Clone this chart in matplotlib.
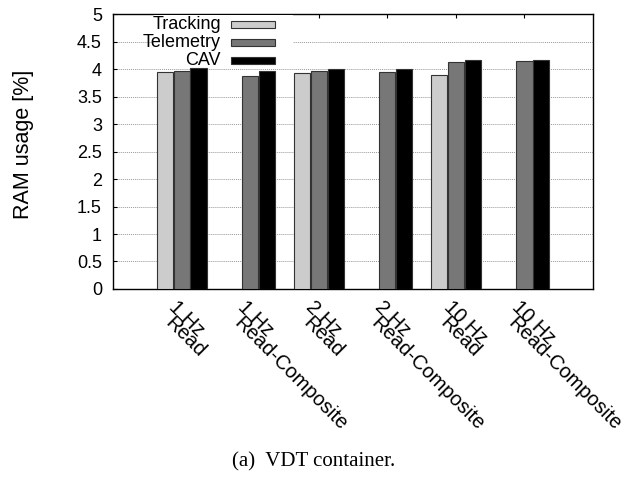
import numpy as np
import matplotlib
matplotlib.use('Agg')
import matplotlib.pyplot as plt
from matplotlib.patches import Rectangle

plt.rcParams['font.family'] = ['Liberation Sans', 'DejaVu Sans']
plt.rcParams['font.size'] = 13

rates = ['1 Hz', '1 Hz', '2 Hz', '2 Hz', '10 Hz', '10 Hz']
modes = ['Read', 'Read-Composite', 'Read', 'Read-Composite', 'Read', 'Read-Composite']
series = ['Tracking', 'Telemetry', 'CAV']
# nan = no bar in that group
tracking = [3.94, np.nan, 3.93, np.nan, 3.89, np.nan]
telemetry = [3.965, 3.87, 3.965, 3.95, 4.12, 4.15]
cav = [4.01, 3.96, 4.0, 4.0, 4.16, 4.17]
values = [tracking, telemetry, cav]
colors = ['#cccccc', '#777777', '#000000']

fig = plt.figure(figsize=(6.37, 4.78), dpi=100)
ax = fig.add_axes([0.1774, 0.3954, 0.7536, 0.5753])

x = np.arange(len(rates))
step = 0.246
for i, vals in enumerate(values):
    ax.bar(x + (i - 1) * step, vals, width=0.235, color=colors[i],
           edgecolor='#333333', linewidth=0.8, zorder=3)

ax.set_xlim(-1, 6)
ax.set_ylim(0, 5)
ax.set_yticks(np.arange(0, 5.01, 0.5))
ax.set_yticklabels(['0', '0.5', '1', '1.5', '2', '2.5', '3', '3.5', '4', '4.5', '5'])
ax.yaxis.grid(True, linestyle=(0, (1, 1)), color='#999999', linewidth=0.7, zorder=0)
ax.tick_params(axis='y', direction='in', length=3, pad=8)
ax.tick_params(axis='x', direction='in', length=3, top=True, bottom=False)
for s in ax.spines.values():
    s.set_linewidth(1.0)

ax.set_xticks(x)
ax.set_xticklabels([])
# two-line rotated labels, gnuplot-style (lines squeezed together)
a, p = 6.5, 10.0  # shift of 2nd line along / across the text, points
dx2 = (a - p) / np.sqrt(2)
dy2 = (-a - p) / np.sqrt(2)
for xi, r, m in zip(x, rates, modes):
    ax.annotate(r, xy=(xi - 0.04, 0), xycoords=('data', 'axes fraction'),
                xytext=(0, -6), textcoords='offset points',
                rotation=-45, rotation_mode='anchor', ha='left', va='top',
                fontsize=14.5)
    ax.annotate(m, xy=(xi - 0.04, 0), xycoords=('data', 'axes fraction'),
                xytext=(dx2, -6 + dy2), textcoords='offset points',
                rotation=-45, rotation_mode='anchor', ha='left', va='top',
                fontsize=14.5)

fig.text(24 / 637, 1 - 144 / 478, 'RAM usage [%]', rotation=90,
         ha='center', va='center', fontsize=15.5)

# key in the top-left corner: text on the left, swatch on the right
ax.add_patch(Rectangle((0.085, 0.81), 0.29, 0.185, transform=ax.transAxes,
                       facecolor='white', edgecolor='none', zorder=4))
for i, name in enumerate(series):
    yy = 0.963 - i * 0.066
    ax.text(0.225, yy, name, transform=ax.transAxes, ha='right', va='center', zorder=5)
    ax.add_patch(Rectangle((0.246, yy - 0.013), 0.091, 0.026, transform=ax.transAxes,
                           facecolor=colors[i], edgecolor='#333333', linewidth=0.8,
                           zorder=5))

fig.text(314 / 637, 1 - 462 / 478, '(a)  VDT container.', ha='center', va='center',
         family='Liberation Serif', fontsize=15)

fig.savefig('out.png', dpi=100)
